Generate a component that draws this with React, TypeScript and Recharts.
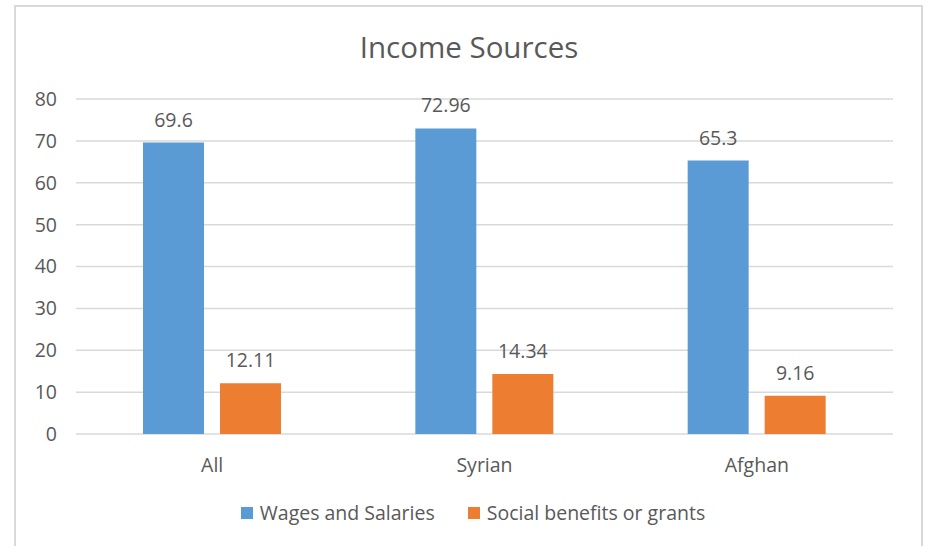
import { BarChart, Bar, XAxis, YAxis, CartesianGrid, LabelList } from "recharts";

const groups = ["All", "Syrian", "Afghan"];
const wages = [69.6, 72.96, 65.3];
const benefits = [12.11, 14.34, 9.16];
const yTicks = [0, 10, 20, 30, 40, 50, 60, 70, 80];

const BLUE = "#5b9bd5";
const ORANGE = "#ed7d31";
const TEXT = "#595959";
const FONT = "'Open Sans', sans-serif";
const FS = 19.5;

const data = groups.map((g, i) => ({ group: g, wages: wages[i], benefits: benefits[i] }));

const legendItems = [
  { name: "Wages and Salaries", color: BLUE },
  { name: "Social benefits or grants", color: ORANGE },
];

const App = () => {
  return (
    <div style={{ position: "absolute", left: 0, top: 0, width: 926, height: 546, background: "#fff", overflow: "hidden" }}>
      <div style={{ position: "absolute", left: 14, top: 5, width: 905, height: 560, border: "2px solid #d9d9d9" }} />
      <div style={{ position: "absolute", left: 0, top: 26, width: 938, textAlign: "center", fontFamily: FONT, fontSize: 29.5, color: TEXT }}>
        Income Sources
      </div>
      <div style={{ position: "absolute", left: 0, top: 0 }}>
        <BarChart
          width={926}
          height={546}
          data={data}
          margin={{ top: 99, right: 33, bottom: 82, left: 0 }}
          barGap={16}
          barSize={61}
        >
          <CartesianGrid vertical={false} stroke="#d9d9d9" strokeWidth={1.5} />
          <XAxis
            dataKey="group"
            axisLine={false}
            tickLine={false}
            tickSize={0}
            tickMargin={24}
            tick={{ fill: TEXT, fontSize: FS, fontFamily: FONT }}
          />
          <YAxis
            width={76}
            domain={[0, 80]}
            ticks={yTicks}
            axisLine={false}
            tickLine={false}
            tickSize={0}
            tickMargin={19}
            tick={{ fill: TEXT, fontSize: FS, fontFamily: FONT }}
          />
          <Bar dataKey="wages" name="Wages and Salaries" fill={BLUE} isAnimationActive={false}>
            <LabelList dataKey="wages" position="top" offset={16} fill={TEXT} fontSize={FS} fontFamily={FONT} />
          </Bar>
          <Bar dataKey="benefits" name="Social benefits or grants" fill={ORANGE} isAnimationActive={false}>
            <LabelList dataKey="benefits" position="top" offset={16} fill={TEXT} fontSize={FS} fontFamily={FONT} />
          </Bar>
        </BarChart>
      </div>
      <div style={{ position: "absolute", left: 0, top: 499, width: 946, display: "flex", justifyContent: "center", gap: 33, fontFamily: FONT, fontSize: FS, color: TEXT }}>
        {legendItems.map((it) => (
          <div key={it.name} style={{ display: "flex", alignItems: "center" }}>
            <span style={{ display: "inline-block", width: 12, height: 12, background: it.color, marginRight: 7 }} />
            {it.name}
          </div>
        ))}
      </div>
    </div>
  );
};

export default App;
